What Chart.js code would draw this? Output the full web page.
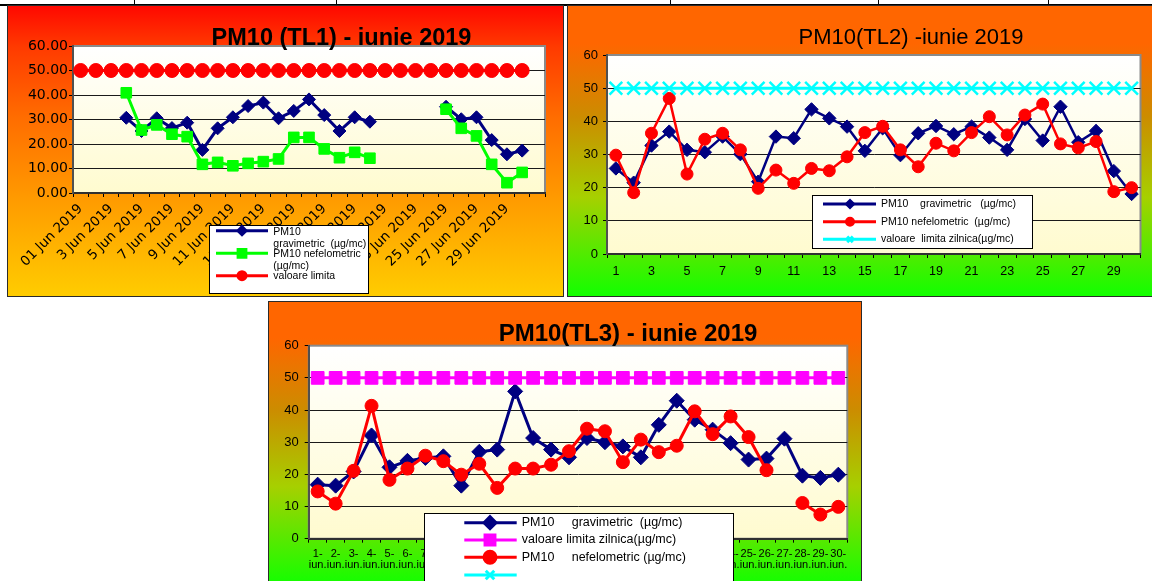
<!DOCTYPE html>
<html>
<head>
<meta charset="utf-8">
<title>PM10 - iunie 2019</title>
<script src="https://cdn.jsdelivr.net/npm/chart.js@4.4.1/dist/chart.umd.min.js"></script>
<style>
	html, body { margin: 0; padding: 0; background: #fff; }
	body { width: 1152px; height: 581px; position: relative; overflow: hidden; }
	.rule { position: absolute; background: #000; }
	.panel { position: absolute; box-sizing: border-box; border: 1px solid #2b2b2b; overflow: hidden; }
	.panel canvas { position: absolute; left: 0; top: 0; }
	#panel-tl1 { left: 7px; top: 5px; width: 557px; height: 292px;
		background: linear-gradient(180deg, #ff0800 0%, #ff3a00 14%, #ff6c00 38%, #ff9d00 68%, #ffcc00 100%); }
	#panel-tl2 { left: 567px; top: 5px; width: 600px; height: 292px;
		background: linear-gradient(180deg, #ff6600 0%, #ff6600 13%, #cc8c00 38%, #a6d000 66%, #12ff00 100%); }
	#panel-tl3 { left: 268px; top: 301px; width: 594px; height: 300px;
		background: linear-gradient(180deg, #ff6600 0%, #ff6600 12%, #cc8c00 36%, #a6d000 62%, #12ff00 95%); }
</style>
</head>
<body>
<div class="rule" style="left:0;top:4px;width:1152px;height:2px;"></div>
<div class="rule" style="left:134px;top:0;width:1px;height:5px;"></div>
<div class="rule" style="left:336px;top:0;width:1px;height:5px;"></div>
<div class="rule" style="left:670px;top:0;width:1px;height:5px;"></div>
<div class="rule" style="left:878px;top:0;width:1px;height:5px;"></div>
<div class="rule" style="left:1048px;top:0;width:1px;height:5px;"></div>

<div class="panel" id="panel-tl1"><canvas id="chart-tl1" width="555" height="290"></canvas></div>
<div class="panel" id="panel-tl2"><canvas id="chart-tl2" width="584" height="290"></canvas></div>
<div class="panel" id="panel-tl3"><canvas id="chart-tl3" width="592" height="279"></canvas></div>

<script>
'use strict';

// ---- data: TL1 ----
var tl1Days = [
	'01 Jun 2019', '2 Jun 2019', '3 Jun 2019', '4 Jun 2019', '5 Jun 2019', '6 Jun 2019',
	'7 Jun 2019', '8 Jun 2019', '9 Jun 2019', '10 Jun 2019', '11 Jun 2019', '12 Jun 2019',
	'13 Jun 2019', '14 Jun 2019', '15 Jun 2019', '16 Jun 2019', '17 Jun 2019', '18 Jun 2019',
	'19 Jun 2019', '20 Jun 2019', '21 Jun 2019', '22 Jun 2019', '23 Jun 2019', '24 Jun 2019',
	'25 Jun 2019', '26 Jun 2019', '27 Jun 2019', '28 Jun 2019', '29 Jun 2019', '30 Jun 2019', ''
];
var tl1Grav = [null, null, null, 30.7, 25.3, 30.5, 26.5, 28.7, 17.6, 26.4, 30.9, 35.5, 36.9, 30.5, 33.5,
	38.2, 31.8, 25.3, 30.9, 29.1, null, null, null, null, 35.2, 30.1, 30.9, 21.6, 15.8, 17.3, null];
var tl1Nef = [null, null, null, 40.9, 25.7, 27.8, 24.0, 23.0, 11.7, 12.5, 11.1, 12.1, 12.8, 13.9, 22.7,
	22.7, 18.0, 14.4, 16.6, 14.2, null, null, null, null, 34.2, 26.4, 23.3, 11.7, 4.2, 8.4, null];
var tl1Limit = [50, 50, 50, 50, 50, 50, 50, 50, 50, 50, 50, 50, 50, 50, 50,
	50, 50, 50, 50, 50, 50, 50, 50, 50, 50, 50, 50, 50, 50, 50, null];

// ---- data: TL2 ----
var tl2Days = ['1', '2', '3', '4', '5', '6', '7', '8', '9', '10', '11', '12', '13', '14', '15',
	'16', '17', '18', '19', '20', '21', '22', '23', '24', '25', '26', '27', '28', '29', '30'];
var tl2Grav = [25.8, 21.5, 32.7, 36.9, 31.4, 30.7, 35.4, 30.1, 21.8, 35.4, 34.9, 43.6, 40.9, 38.4, 31.1,
	37.9, 29.8, 36.4, 38.6, 36.1, 38.4, 35.1, 31.4, 40.7, 34.2, 44.4, 33.7, 37.1, 25.0, 18.1];
var tl2Nef = [29.8, 18.5, 36.4, 46.9, 24.1, 34.6, 36.4, 31.4, 19.8, 25.3, 21.3, 25.8, 25.1, 29.3, 36.6,
	38.5, 31.4, 26.3, 33.4, 31.1, 36.6, 41.4, 35.9, 41.9, 45.2, 33.2, 32.0, 33.9, 18.8, 20.0];
var tl2Limit = [50, 50, 50, 50, 50, 50, 50, 50, 50, 50, 50, 50, 50, 50, 50,
	50, 50, 50, 50, 50, 50, 50, 50, 50, 50, 50, 50, 50, 50, 50];

// ---- data: TL3 ----
var tl3Days = [['1-', 'iun.'], ['2-', 'iun.'], ['3-', 'iun.'], ['4-', 'iun.'], ['5-', 'iun.'], ['6-', 'iun.'],
	['7-', 'iun.'], ['8-', 'iun.'], ['9-', 'iun.'], ['10-', 'iun.'], ['11-', 'iun.'], ['12-', 'iun.'],
	['13-', 'iun.'], ['14-', 'iun.'], ['15-', 'iun.'], ['16-', 'iun.'], ['17-', 'iun.'], ['18-', 'iun.'],
	['19-', 'iun.'], ['20-', 'iun.'], ['21-', 'iun.'], ['22-', 'iun.'], ['23-', 'iun.'], ['24-', 'iun.'],
	['25-', 'iun.'], ['26-', 'iun.'], ['27-', 'iun.'], ['28-', 'iun.'], ['29-', 'iun.'], ['30-', 'iun.']];
var tl3Grav = [16.8, 16.5, 20.9, 32.1, 22.2, 24.2, 25.1, 25.6, 16.5, 27.0, 27.7, 45.8, 31.3, 27.7, 25.3,
	31.3, 30.0, 28.7, 25.3, 35.4, 42.9, 37.0, 33.9, 29.7, 24.6, 24.9, 31.1, 19.6, 18.9, 19.9];
var tl3Nef = [14.7, 10.9, 21.1, 41.3, 18.3, 21.8, 25.8, 24.1, 19.9, 23.3, 15.8, 21.8, 21.8, 23.0, 27.2,
	34.2, 33.4, 23.8, 30.8, 26.9, 28.9, 39.6, 32.5, 38.0, 31.6, 21.3, null, 11.1, 7.5, 9.9];
var tl3Limit = [50, 50, 50, 50, 50, 50, 50, 50, 50, 50, 50, 50, 50, 50, 50,
	50, 50, 50, 50, 50, 50, 50, 50, 50, 50, 50, 50, 50, 50, 50];

var ARIAL = "'Liberation Sans', Arial, sans-serif";
var DEJAVU = "'DejaVu Sans', sans-serif";

Chart.defaults.color = '#000';
Chart.defaults.font.family = ARIAL;

// background, frame, title and legend of each panel
var decor = {
	id: 'decor',
	beforeDraw: function (chart) {
		var a = chart.chartArea, ctx = chart.ctx;
		var g = ctx.createLinearGradient(0, a.top, 0, a.bottom);
		g.addColorStop(0, '#ffffff');
		g.addColorStop(1, '#fffbcf');
		ctx.save();
		ctx.fillStyle = g;
		ctx.fillRect(a.left, a.top, a.right - a.left, a.bottom - a.top);
		ctx.strokeStyle = '#8a8a8a';
		ctx.lineWidth = 2;
		ctx.strokeRect(a.left, a.top, a.right - a.left, a.bottom - a.top);
		ctx.restore();
	},
	afterDraw: function (chart, args, opts) {
		var ctx = chart.ctx;
		var t = opts.title;
		ctx.save();
		ctx.fillStyle = '#000';
		ctx.font = t.font;
		ctx.textAlign = 'center';
		ctx.textBaseline = 'alphabetic';
		ctx.fillText(t.text, t.x, t.y);

		var lg = opts.legend;
		ctx.fillStyle = '#fff';
		ctx.fillRect(lg.box[0], lg.box[1], lg.box[2], lg.box[3]);
		ctx.strokeStyle = '#000';
		ctx.lineWidth = 1;
		ctx.strokeRect(lg.box[0] + 0.5, lg.box[1] + 0.5, lg.box[2], lg.box[3]);
		lg.items.forEach(function (it) {
			ctx.strokeStyle = it.color;
			ctx.fillStyle = it.color;
			ctx.lineWidth = 3;
			ctx.beginPath();
			ctx.moveTo(lg.line[0], it.y);
			ctx.lineTo(lg.line[1], it.y);
			ctx.stroke();
			Chart.helpers.drawPoint(ctx, {
				pointStyle: it.style, radius: it.r, rotation: 0, borderWidth: it.style === 'crossRot' ? 2 : 1
			}, lg.marker, it.y);
			ctx.fillStyle = '#000';
			ctx.font = lg.font;
			ctx.textAlign = 'left';
			ctx.textBaseline = 'middle';
			it.text.forEach(function (tx) {
				ctx.fillText(tx[0], tx[1], tx[2]);
			});
		});
		ctx.restore();
	}
};

function series(label, data, color, style, radius, width, order) {
	return {
		label: label,
		data: data,
		borderColor: color,
		backgroundColor: color,
		borderWidth: width,
		pointStyle: style,
		pointRadius: radius,
		pointHoverRadius: radius,
		pointBackgroundColor: color,
		pointBorderColor: color,
		pointBorderWidth: style === 'crossRot' ? 2.5 : 1,
		tension: 0,
		spanGaps: false,
		order: order
	};
}

function yAxis(width, fmt, font, pad) {
	return {
		min: 0,
		max: 60,
		afterFit: function (s) { s.width = width; },
		border: { color: '#505050', width: 2 },
		grid: {
			color: function (c) {
				return (c.tick && (c.tick.value === 60 || c.tick.value === 0)) ? 'rgba(0,0,0,0)' : '#1a1a1a';
			},
			tickColor: '#000',
			lineWidth: 1,
			tickLength: 4
		},
		ticks: {
			stepSize: 10,
			padding: pad,
			font: font,
			callback: fmt
		}
	};
}

function xAxis(height, font, pad, rotation, every) {
	return {
		type: 'category',
		offset: true,
		afterFit: function (s) { s.height = height; },
		border: { color: '#303030', width: 2 },
		grid: { offset: true, drawOnChartArea: false, tickLength: 4, color: '#000' },
		ticks: {
			autoSkip: false,
			minRotation: rotation,
			maxRotation: rotation,
			padding: pad,
			font: font,
			callback: function (value, index) {
				return index % every === 0 ? this.getLabelForValue(value) : '';
			}
		}
	};
}

function baseOptions(padding, x, y, decorOpts) {
	return {
		responsive: false,
		animation: false,
		events: [],
		layout: { padding: padding },
		scales: { x: x, y: y },
		plugins: {
			legend: { display: false },
			title: { display: false },
			tooltip: { enabled: false },
			decor: decorOpts
		}
	};
}

// TL1
new Chart(document.getElementById('chart-tl1'), {
	type: 'line',
	data: {
		labels: tl1Days,
		datasets: [
			series('PM10 gravimetric (µg/mc)', tl1Grav, '#000080', 'rectRot', 6.5, 3, 3),
			series('PM10 nefelometric (µg/mc)', tl1Nef, '#00ff00', 'rect', 7.5, 3, 2),
			series('valoare limita', tl1Limit, '#ff0000', 'circle', 7, 3, 1)
		]
	},
	plugins: [decor],
	options: baseOptions({ left: 0, top: 40, right: 18, bottom: 0 },
		xAxis(103, { family: DEJAVU, size: 13.5 }, 4, 45, 2),
		yAxis(65, function (v) { return v.toFixed(2); }, { family: DEJAVU, size: 14 }, 1),
		{
			title: { text: 'PM10 (TL1) - iunie 2019', font: 'bold 23.5px ' + ARIAL, x: 333.5, y: 39 },
			legend: {
				box: [201, 219, 159, 68],
				line: [208, 260],
				marker: 234,
				font: '10.5px ' + ARIAL,
				items: [
					{ color: '#000080', style: 'rectRot', r: 4, y: 224.7,
						text: [['PM10', 265.3, 225.7], ['gravimetric  (µg/mc)', 265.3, 238]] },
					{ color: '#00ff00', style: 'rect', r: 5.5, y: 247.3,
						text: [['PM10 nefelometric', 265.3, 248], ['(µg/mc)', 265.3, 259.8]] },
					{ color: '#ff0000', style: 'circle', r: 4, y: 269.7,
						text: [['valoare limita', 265.3, 270.3]] }
				]
			}
		})
});

// TL2
new Chart(document.getElementById('chart-tl2'), {
	type: 'line',
	data: {
		labels: tl2Days,
		datasets: [
			series('PM10 gravimetric (µg/mc)', tl2Grav, '#000080', 'rectRot', 6.7, 2.5, 3),
			series('PM10 nefelometric (µg/mc)', tl2Nef, '#ff0000', 'circle', 6, 2.5, 2),
			series('valoare limita zilnica(µg/mc)', tl2Limit, '#00ffff', 'crossRot', 9, 3, 1)
		]
	},
	plugins: [decor],
	options: baseOptions({ left: 0, top: 49, right: 3, bottom: 0 },
		xAxis(42, { family: ARIAL, size: 12.5 }, 6, 0, 2),
		yAxis(39, function (v) { return v; }, { family: ARIAL, size: 13 }, 5),
		{
			title: { text: 'PM10(TL2) -iunie 2019', font: '22px ' + ARIAL, x: 343, y: 38 },
			legend: {
				box: [244, 189, 220, 53],
				line: [255, 308],
				marker: 282,
				font: '10.5px ' + ARIAL,
				items: [
					{ color: '#000080', style: 'rectRot', r: 3.5, y: 198,
						text: [['PM10    gravimetric   (µg/mc)', 313, 198]] },
					{ color: '#ff0000', style: 'circle', r: 3.5, y: 215.7,
						text: [['PM10 nefelometric  (µg/mc)', 313, 215.7]] },
					{ color: '#00ffff', style: 'crossRot', r: 4, y: 233.3,
						text: [['valoare  limita zilnica(µg/mc)', 313, 233.3]] }
				]
			}
		})
});

// TL3
new Chart(document.getElementById('chart-tl3'), {
	type: 'line',
	data: {
		labels: tl3Days,
		datasets: [
			series('PM10 gravimetric (µg/mc)', tl3Grav, '#000080', 'rectRot', 7.5, 3, 3),
			series('valoare limita zilnica(µg/mc)', tl3Limit, '#ff00ff', 'rect', 9, 3, 1),
			series('PM10 nefelometric (µg/mc)', tl3Nef, '#ff0000', 'circle', 6.5, 3, 2)
		]
	},
	plugins: [decor],
	options: baseOptions({ left: 0, top: 43.7, right: 13.7, bottom: 0 },
		xAxis(42.3, { family: ARIAL, size: 11, lineHeight: 1.05 }, 5, 0, 1),
		yAxis(39.7, function (v) { return v; }, { family: ARIAL, size: 13 }, 6),
		{
			title: { text: 'PM10(TL3) - iunie 2019', font: 'bold 24px ' + ARIAL, x: 359, y: 39 },
			legend: {
				box: [155, 211, 309, 80],
				line: [195.3, 247.7],
				marker: 221,
				font: '12.5px ' + ARIAL,
				items: [
					{ color: '#000080', style: 'rectRot', r: 6, y: 220.7,
						text: [['PM10', 252.7, 220.7], ['gravimetric  (µg/mc)', 302.7, 220.7]] },
					{ color: '#ff00ff', style: 'rect', r: 7, y: 238,
						text: [['valoare limita zilnica(µg/mc)', 252.7, 238]] },
					{ color: '#ff0000', style: 'circle', r: 6, y: 255.3,
						text: [['PM10', 252.7, 255.3], ['nefelometric (µg/mc)', 302.7, 255.3]] },
					{ color: '#00ffff', style: 'crossRot', r: 6, y: 273, text: [] }
				]
			}
		})
});
</script>
</body>
</html>
